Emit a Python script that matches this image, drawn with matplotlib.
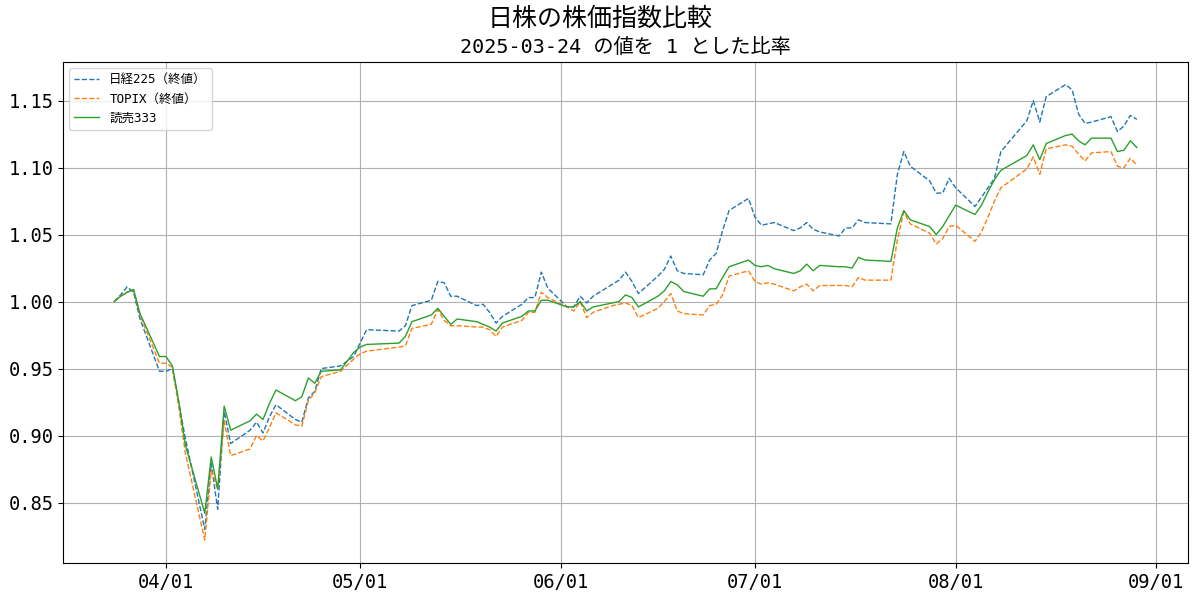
import pandas as pd
import matplotlib
matplotlib.use('Agg')
import matplotlib.pyplot as plt
import matplotlib.dates as mdates

plt.rcParams['font.family'] = ['DejaVu Sans Mono', 'Noto Sans CJK JP']

# trading days 2025-03-24 .. 2025-08-29
dates = ['03-24', '03-25', '03-26', '03-27', '03-28', '03-31',
         '04-01', '04-02', '04-03', '04-04', '04-07', '04-08', '04-09', '04-10', '04-11',
         '04-14', '04-15', '04-16', '04-17', '04-18', '04-21', '04-22', '04-23', '04-24',
         '04-25', '04-28', '04-30',
         '05-01', '05-02', '05-07', '05-08', '05-09', '05-12', '05-13', '05-14', '05-15',
         '05-16', '05-19', '05-20', '05-21', '05-22', '05-23', '05-26', '05-27', '05-28',
         '05-29', '05-30',
         '06-02', '06-03', '06-04', '06-05', '06-06', '06-09', '06-10', '06-11', '06-12',
         '06-13', '06-16', '06-17', '06-18', '06-19', '06-20', '06-23', '06-24', '06-25',
         '06-26', '06-27', '06-30',
         '07-01', '07-02', '07-03', '07-04', '07-07', '07-08', '07-09', '07-10', '07-11',
         '07-14', '07-15', '07-16', '07-17', '07-18', '07-22', '07-23', '07-24', '07-25',
         '07-28', '07-29', '07-30', '07-31',
         '08-01', '08-04', '08-05', '08-06', '08-07', '08-08', '08-12', '08-13', '08-14',
         '08-15', '08-18', '08-19', '08-20', '08-21', '08-22', '08-25', '08-26', '08-27',
         '08-28', '08-29']

nikkei = [1.000, 1.005, 1.011, 1.007, 0.987, 0.948,
          0.948, 0.950, 0.924, 0.898, 0.830, 0.879, 0.845, 0.918, 0.894,
          0.904, 0.910, 0.902, 0.914, 0.923, 0.912, 0.910, 0.928, 0.933,
          0.950, 0.952, 0.959,
          0.969, 0.979, 0.978, 0.982, 0.997, 1.001, 1.015, 1.014, 1.004,
          1.004, 0.997, 0.998, 0.992, 0.984, 0.989, 0.998, 1.003, 1.003,
          1.022, 1.010,
          0.996, 0.996, 1.004, 0.999, 1.004, 1.013, 1.016, 1.022, 1.015,
          1.006, 1.019, 1.024, 1.034, 1.023, 1.021, 1.020, 1.031, 1.036,
          1.053, 1.068, 1.077,
          1.063, 1.057, 1.058, 1.059, 1.053, 1.055, 1.059, 1.054, 1.052,
          1.049, 1.055, 1.055, 1.061, 1.059, 1.058, 1.095, 1.112, 1.101,
          1.090, 1.081, 1.081, 1.092,
          1.085, 1.071, 1.078, 1.085, 1.092, 1.112, 1.135, 1.150, 1.134,
          1.153, 1.162, 1.158, 1.140, 1.133, 1.134, 1.138, 1.127, 1.131,
          1.139, 1.136]

topix = [1.000, 1.004, 1.007, 1.009, 0.990, 0.954,
         0.954, 0.951, 0.921, 0.887, 0.822, 0.874, 0.860, 0.911, 0.885,
         0.890, 0.900, 0.896, 0.906, 0.917, 0.908, 0.907, 0.926, 0.932,
         0.944, 0.948, 0.957,
         0.961, 0.963, 0.966, 0.967, 0.980, 0.983, 0.994, 0.986, 0.982,
         0.982, 0.981, 0.981, 0.979, 0.974, 0.981, 0.986, 0.992, 0.992,
         1.007, 1.003,
         0.996, 0.993, 1.000, 0.988, 0.992, 0.997, 0.998, 0.999, 0.997,
         0.988, 0.995, 1.000, 1.006, 0.993, 0.991, 0.990, 0.997, 0.998,
         1.005, 1.019, 1.023,
         1.015, 1.013, 1.014, 1.013, 1.008, 1.011, 1.013, 1.008, 1.012,
         1.012, 1.012, 1.011, 1.018, 1.016, 1.016, 1.046, 1.067, 1.058,
         1.051, 1.043, 1.047, 1.056,
         1.057, 1.045, 1.052, 1.063, 1.075, 1.085, 1.099, 1.108, 1.095,
         1.114, 1.117, 1.116, 1.110, 1.105, 1.111, 1.112, 1.101, 1.100,
         1.107, 1.102]

yomiuri = [1.000, 1.004, 1.007, 1.009, 0.991, 0.959,
           0.959, 0.952, 0.925, 0.893, 0.842, 0.884, 0.860, 0.922, 0.904,
           0.911, 0.916, 0.912, 0.924, 0.934, 0.926, 0.929, 0.943, 0.939,
           0.948, 0.949, 0.962,
           0.966, 0.968, 0.969, 0.974, 0.985, 0.990, 0.995, 0.989, 0.983,
           0.987, 0.985, 0.983, 0.981, 0.978, 0.984, 0.989, 0.993, 0.993,
           1.001, 1.001,
           0.996, 0.996, 1.000, 0.993, 0.996, 0.999, 1.000, 1.005, 1.003,
           0.996, 1.004, 1.008, 1.015, 1.0125, 1.0075, 1.004, 1.0095, 1.0095,
           1.018, 1.026, 1.031,
           1.027, 1.026, 1.027, 1.0245, 1.021, 1.023, 1.028, 1.023, 1.027,
           1.026, 1.026, 1.025, 1.033, 1.031, 1.030, 1.055, 1.068, 1.061,
           1.056, 1.050, 1.056, 1.064,
           1.072, 1.065, 1.072, 1.082, 1.091, 1.098, 1.109, 1.117, 1.106,
           1.118, 1.124, 1.125, 1.120, 1.117, 1.122, 1.122, 1.112, 1.113,
           1.120, 1.115]

x = pd.to_datetime(['2025-' + d for d in dates])

fig, ax = plt.subplots(figsize=(12, 6), dpi=100)
ax.plot(x, nikkei, '--', color='tab:blue', lw=1, label='日経225（終値）')
ax.plot(x, topix, '--', color='tab:orange', lw=1, label='TOPIX（終値）')
ax.plot(x, yomiuri, '-', color='tab:green', lw=1, label='読売333')

fig.suptitle('日株の株価指数比較', fontsize=18, y=0.988)
ax.set_title('2025-03-24 の値を 1 とした比率', fontsize=14.5, pad=6)
ax.xaxis.set_major_locator(mdates.MonthLocator())
ax.xaxis.set_major_formatter(mdates.DateFormatter('%m/%d'))
ax.tick_params(labelsize=13.5)
ax.legend(loc='upper left', fontsize=9)
ax.grid()
fig.subplots_adjust(left=0.0525, right=0.99, bottom=0.062, top=0.897)
fig.savefig('out.png')
